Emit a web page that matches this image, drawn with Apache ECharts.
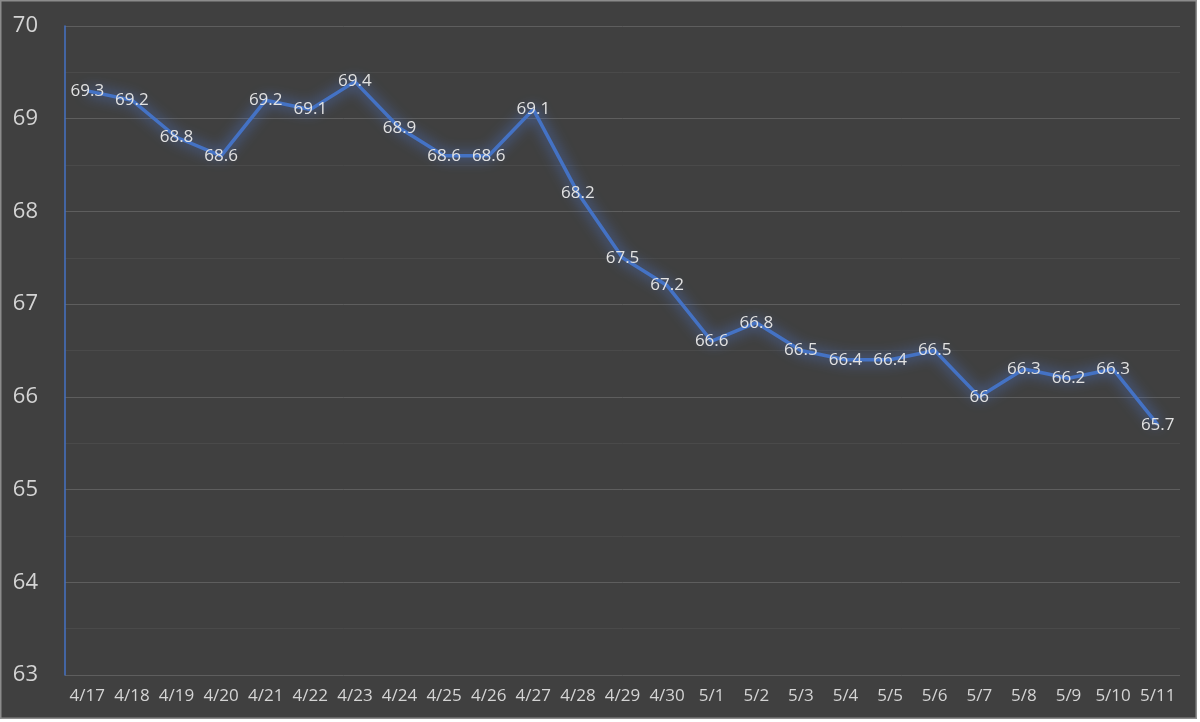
<!DOCTYPE html>
<html>
<head>
<meta charset="utf-8">
<script src="https://cdn.jsdelivr.net/npm/echarts@6/dist/echarts.min.js"></script>
<style>
html,body{margin:0;padding:0;background:#ffffff;}
#c{width:1200px;height:722px;}
</style>
</head>
<body>
<div id="c"></div>
<script>
var categories = ['4/17','4/18','4/19','4/20','4/21','4/22','4/23','4/24','4/25','4/26','4/27','4/28','4/29','4/30','5/1','5/2','5/3','5/4','5/5','5/6','5/7','5/8','5/9','5/10','5/11'];
var values = [69.3,69.2,68.8,68.6,69.2,69.1,69.4,68.9,68.6,68.6,69.1,68.2,67.5,67.2,66.6,66.8,66.5,66.4,66.4,66.5,66,66.3,66.2,66.3,65.7];
var yMin = 63, yMax = 70, yInterval = 1;

var chart = echarts.init(document.getElementById('c'), null, {renderer:'canvas'});
chart.setOption({
  backgroundColor: '#404040',
  animation: false,
  textStyle: {fontFamily: 'Open Sans'},
  graphic: [{
    type: 'rect',
    shape: {x: 0.5, y: 0.5, width: 1196, height: 718},
    style: {fill: 'none', stroke: '#8c8c8c', lineWidth: 2},
    silent: true
  }, {
    type: 'rect',
    shape: {x: 1197, y: 0, width: 3, height: 722},
    style: {fill: '#ffffff'}, silent: true
  }, {
    type: 'rect',
    shape: {x: 0, y: 719, width: 1200, height: 3},
    style: {fill: '#ffffff'}, silent: true
  }],
  grid: {left: 65, right: 20, top: 26, bottom: 47, containLabel: false},
  xAxis: {
    type: 'category',
    data: categories,
    boundaryGap: true,
    axisLine: {show: false},
    axisTick: {show: false},
    axisLabel: {color: '#d4d4d4', fontSize: 17, margin: 13, interval: 0}
  },
  yAxis: {
    type: 'value',
    min: yMin, max: yMax, interval: yInterval,
    axisLine: {show: true, lineStyle: {color: '#4472C4', width: 1.5}},
    axisTick: {show: false},
    axisLabel: {color: '#d4d4d4', fontSize: 22, margin: 27},
    splitLine: {show: true, lineStyle: {color: '#5e5e5e', width: 1}},
    minorTick: {show: false, splitNumber: 2},
    minorSplitLine: {show: true, lineStyle: {color: '#4a4a4a', width: 1}}
  },
  series: [{
    type: 'line',
    data: values,
    symbol: 'circle',
    symbolSize: 0.1,
    itemStyle: {color: '#4472C4'},
    lineStyle: {color: '#4472C4', width: 3.5, shadowBlur: 14, shadowColor: 'rgba(80,130,235,1)'},
    label: {show: true, position: 'inside', color: '#e2e2e2', fontSize: 17}
  }]
});
</script>
</body>
</html>
